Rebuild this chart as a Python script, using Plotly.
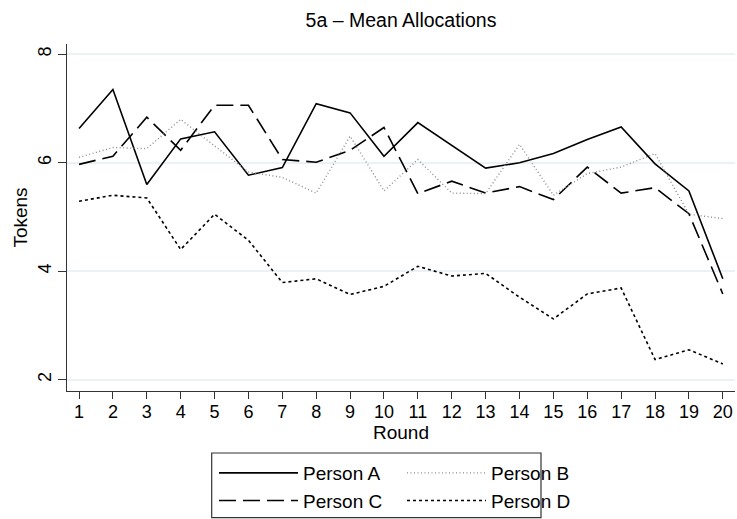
import plotly.graph_objects as go

rounds = list(range(1, 21))
person_a = [6.63, 7.35, 5.60, 6.44, 6.57, 5.77, 5.91, 7.09, 6.92, 6.12,
            6.74, 6.32, 5.90, 6.00, 6.17, 6.43, 6.66, 5.98, 5.48, 3.86]
person_b = [6.10, 6.28, 6.26, 6.80, 6.31, 5.83, 5.73, 5.44, 6.49, 5.48,
            6.06, 5.44, 5.43, 6.34, 5.40, 5.80, 5.92, 6.17, 5.05, 4.97]
person_c = [5.97, 6.12, 6.84, 6.23, 7.06, 7.06, 6.06, 6.01, 6.23, 6.65,
            5.43, 5.66, 5.44, 5.56, 5.32, 5.92, 5.44, 5.54, 5.06, 3.58]
person_d = [5.29, 5.40, 5.35, 4.40, 5.05, 4.57, 3.79, 3.86, 3.57, 3.72,
            4.09, 3.91, 3.96, 3.52, 3.12, 3.58, 3.69, 2.37, 2.55, 2.29]
y_ticks = [2, 4, 6, 8]

FONT = "Liberation Sans, Arial, Helvetica, sans-serif"

fig = go.Figure()
fig.add_trace(go.Scatter(x=rounds, y=person_a, mode="lines", name="Person A",
                         line=dict(color="black", width=1.6),
                         legend="legend", legendgroup="a"))
fig.add_trace(go.Scatter(x=rounds, y=person_c, mode="lines", name="Person C",
                         line=dict(color="black", width=1.6, dash="17px,7px"),
                         legend="legend", legendgroup="c"))
fig.add_trace(go.Scatter(x=rounds, y=person_b, mode="lines", name="Person B",
                         line=dict(color="#8a8a8a", width=1.4, dash="1px,2.5px"),
                         legend="legend2", legendgroup="b"))
fig.add_trace(go.Scatter(x=rounds, y=person_d, mode="lines", name="Person D",
                         line=dict(color="black", width=1.6, dash="3px,3px"),
                         legend="legend2", legendgroup="d"))

legend_common = dict(
    orientation="v", xanchor="left", yanchor="top",
    bgcolor="rgba(0,0,0,0)", borderwidth=0,
    font=dict(family=FONT, size=19, color="black"),
    itemwidth=79, tracegroupgap=0, itemclick=False, itemdoubleclick=False,
)

fig.update_layout(
    width=737, height=519,
    margin=dict(l=67, r=2, t=44, b=128, autoexpand=False),
    paper_bgcolor="white", plot_bgcolor="white",
    font=dict(family=FONT, size=18, color="black"),
    title=dict(text="5a – Mean Allocations", x=(67 + 735) / 2 / 737, xanchor="center",
               y=1 - 20 / 519, yanchor="middle",
               font=dict(family=FONT, size=19.5, color="black")),
    xaxis=dict(range=[0.645, 20.36], tickmode="array", tickvals=rounds,
               ticks="outside", ticklen=7, tickcolor="#333333", tickwidth=1.2,
               ticklabelstandoff=-3,
               showline=True, linecolor="#333333", linewidth=1.2,
               showgrid=False, zeroline=False, automargin=False,
               title=dict(text="Round", standoff=0, font=dict(size=19)),
               tickfont=dict(size=18)),
    yaxis=dict(range=[1.79, 8.19], tickmode="array", tickvals=y_ticks,
               ticks="outside", ticklen=8, tickcolor="#333333", tickwidth=1.2,
               tickangle=-90, automargin=False,
               showline=True, linecolor="#333333", linewidth=1.2,
               showgrid=True, gridcolor="#eaf2f3", gridwidth=1.5, zeroline=False,
               title=dict(text="Tokens", standoff=2, font=dict(size=19)),
               tickfont=dict(size=18)),
    legend=dict(x=(214 - 67) / 668, y=(391 - 454) / 347, **legend_common),
    legend2=dict(x=(402 - 67) / 668, y=(391 - 454) / 347, **legend_common),
    shapes=[dict(type="rect", xref="paper", yref="paper",
                 x0=(211.7 - 67) / 668, x1=(541 - 67) / 668,
                 y0=(391 - 517.7) / 347, y1=(391 - 453) / 347,
                 line=dict(color="#333333", width=1.2), fillcolor="rgba(0,0,0,0)",
                 layer="above")],
)

fig.write_html("out.html", config={"displayModeBar": False},
               post_script="document.body.style.margin='0px';")
